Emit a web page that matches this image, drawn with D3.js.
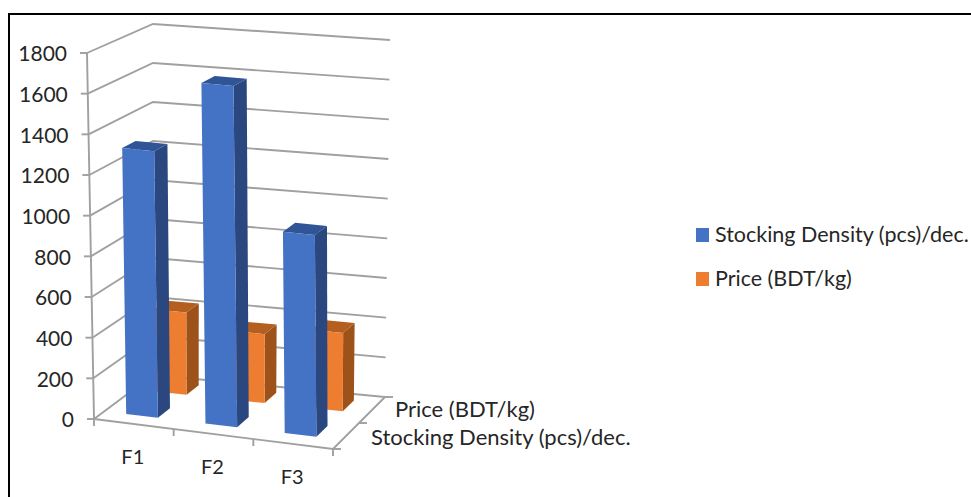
<!DOCTYPE html>
<html>
<head>
<meta charset="utf-8">
<script src="https://cdn.jsdelivr.net/npm/d3@7"></script>
<style>
  html, body { margin: 0; padding: 0; background: #fff; overflow: hidden; }
  text { font-family: Lato, "Open Sans", sans-serif; fill: #262626; }
</style>
</head>
<body>
<svg id="chart" width="971" height="497"></svg>
<script>
// Chart values
const categories = ["F1", "F2", "F3"];
const seriesNames = ["Stocking Density (pcs)/dec.", "Price (BDT/kg)"];
const stockingDensity = [1315, 1675, 985];
const price = [415, 345, 390];
const valueTicks = [0, 200, 400, 600, 800, 1000, 1200, 1400, 1600, 1800];

// Colours per series: front, side, top faces
const frontColors = ["#4472c4", "#ed7d31"];
const sideColors = ["#2a4780", "#9c5219"];
const topColors = ["#2f5597", "#b45f1f"];

const svg = d3.select("#chart");

// Box corners on screen: front/back, left/right, floor/ceiling
const corners = {
  flb: [94, 419], frb: [333, 449], blb: [153, 375], brb: [385, 397],
  flt: [87, 53], frt: [329, 77], blt: [153, 24], brt: [390, 40]
};

// Blend the eight box corners for a position u (along categories),
// v (depth) and w (height), each running 0..1
function project(u, v, w) {
  const mix = (a, b, t) => [a[0] + (b[0] - a[0]) * t, a[1] + (b[1] - a[1]) * t];
  const bottom = mix(mix(corners.flb, corners.frb, u), mix(corners.blb, corners.brb, u), v);
  const top = mix(mix(corners.flt, corners.frt, u), mix(corners.blt, corners.brt, u), v);
  return mix(bottom, top, w);
}

const uBand = d3.scaleBand().domain(categories).range([-0.008, 0.992]).paddingInner(0.6).paddingOuter(0.3);
const vBand = d3.scaleBand().domain(seriesNames).range([0.03, 1.03]).paddingInner(0.58).paddingOuter(0.29);
const wScale = d3.scaleLinear().domain([0, 1800]).range([0, 1]);

const line = d3.line();
const gridColor = "#a0a0a0";

// Gridlines over the left wall and the back wall
const grid = svg.append("g").attr("fill", "none").attr("stroke", gridColor).attr("stroke-width", 1.9);
grid.selectAll("path.wall").data(valueTicks).join("path").attr("class", "wall")
  .attr("d", t => line([project(0, 0, wScale(t)), project(0, 1, wScale(t)), project(1, 1, wScale(t))]));

// Floor edges and the vertical value axis
grid.append("path").attr("d", line([project(0, 0, 0), project(1, 0, 0), project(1, 1, 0)]));
grid.append("path").attr("d", line([project(0, 0, 0), project(0, 0, 1)]));

// Tick marks on all three axes
grid.selectAll("path.vtick").data(valueTicks).join("path").attr("class", "vtick")
  .attr("d", t => { const p = project(0, 0, wScale(t)); return line([p, [p[0] - 7, p[1]]]); });
grid.selectAll("path.utick").data([0, 1 / 3, 2 / 3, 1]).join("path").attr("class", "utick")
  .attr("d", u => { const p = project(u, 0, 0); return line([p, [p[0], p[1] + 7]]); });
grid.selectAll("path.dtick").data([0, 0.5, 1]).join("path").attr("class", "dtick")
  .attr("d", v => { const p = project(1, v, 0); return line([p, [p[0] + 8, p[1]]]); });

// Bars, drawn from the back row to the front row
function drawBars(values, name, si) {
  const v0 = vBand(name), v1 = v0 + vBand.bandwidth();
  const g = svg.append("g").attr("class", "series-" + si);
  categories.forEach((c, i) => {
    const u0 = uBand(c), u1 = u0 + uBand.bandwidth();
    const w = wScale(values[i]);
    const poly = pts => line(pts) + "Z";
    g.append("path").attr("fill", sideColors[si])
      .attr("d", poly([project(u1, v0, 0), project(u1, v1, 0), project(u1, v1, w), project(u1, v0, w)]));
    g.append("path").attr("fill", topColors[si])
      .attr("d", poly([project(u0, v0, w), project(u1, v0, w), project(u1, v1, w), project(u0, v1, w)]));
    g.append("path").attr("fill", frontColors[si])
      .attr("d", poly([project(u0, v0, 0), project(u1, v0, 0), project(u1, v0, w), project(u0, v0, w)]));
  });
}
drawBars(price, seriesNames[1], 1);
drawBars(stockingDensity, seriesNames[0], 0);

// Value axis labels
svg.append("g").selectAll("text").data(valueTicks).join("text")
  .attr("x", t => project(0, 0, wScale(t))[0] - 20)
  .attr("y", t => project(0, 0, wScale(t))[1] + 1)
  .attr("dy", "0.35em").attr("text-anchor", "end").attr("font-size", 21)
  .text(t => t);

// Category labels below the front edge
svg.append("g").selectAll("text").data(categories).join("text")
  .attr("x", (c, i) => project((i + 0.5) / 3, 0, 0)[0] - 1)
  .attr("y", (c, i) => project((i + 0.5) / 3, 0, 0)[1] + 33)
  .attr("dy", "0.35em").attr("text-anchor", "middle").attr("font-size", 20)
  .text(c => c);

// Series names along the depth axis
const depthLabels = [[seriesNames[1], 395, 409], [seriesNames[0], 371, 437]];
svg.append("g").selectAll("text").data(depthLabels).join("text")
  .attr("x", d => d[1]).attr("y", d => d[2])
  .attr("dy", "0.35em").attr("font-size", 22)
  .text(d => d[0]);

// Legend
const legend = svg.append("g").selectAll("g").data(seriesNames).join("g")
  .attr("transform", (d, i) => `translate(696,${228 + i * 44})`);
legend.append("rect").attr("width", 13).attr("height", 14).attr("fill", (d, i) => frontColors[i]);
legend.append("text").attr("x", 19).attr("y", 6).attr("dy", "0.35em").attr("font-size", 21.5).text(d => d);

// Outer frame
svg.append("path").attr("fill", "none").attr("stroke", "#000").attr("stroke-width", 2)
  .attr("d", line([[9, 497], [9, 14], [971, 14]]));
</script>
</body>
</html>
